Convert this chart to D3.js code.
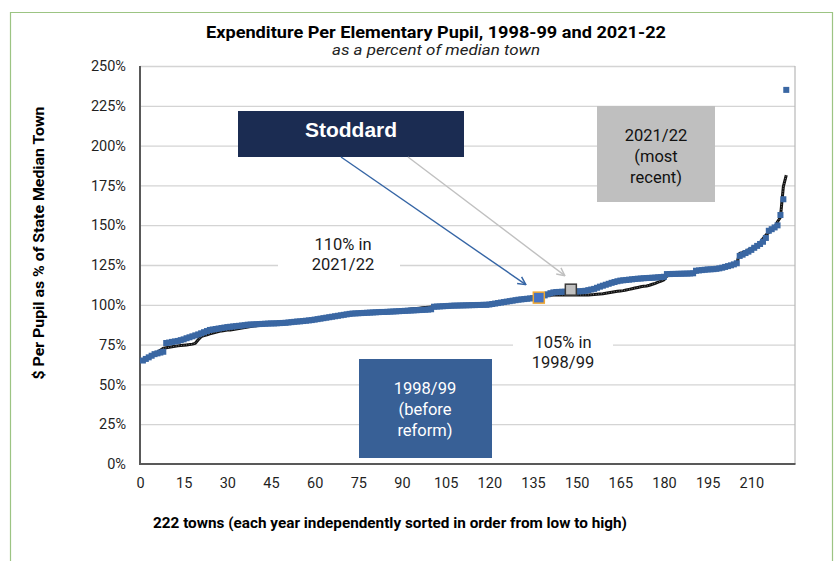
<!DOCTYPE html>
<html><head><meta charset="utf-8">
<script src="https://cdn.jsdelivr.net/npm/d3@7"></script>
<style>body{margin:0;background:#fff;} svg{display:block;}</style>
</head><body><svg id="c" width="836" height="561"></svg>
<script>
// ---------------- DATA ----------------
const yTicks = [0, 25, 50, 75, 100, 125, 150, 175, 200, 225, 250];
const xTicks = [0, 15, 30, 45, 60, 75, 90, 105, 120, 135, 150, 165, 180, 195, 210];
// rank of each town, 1..222 (each year sorted independently)
const ranks = d3.range(1, 223);
// blue markers: 1998/99
const values9899 = [
  65, 66, 67, 68, 69, 69.5, 70, 70.5, 76, 76.3,
  76.7, 77, 77.3, 77.8, 78.3, 79, 79.6, 80.2, 80.8, 81.4,
  82.1, 82.8, 83.5, 84.2, 84.5, 84.8, 85.1, 85.4, 85.7, 86,
  86.2, 86.4, 86.6, 86.8, 87, 87.2, 87.5, 87.6, 87.7, 87.8,
  87.9, 88, 88.1, 88.2, 88.3, 88.3, 88.4, 88.5, 88.6, 88.7,
  88.9, 89.1, 89.3, 89.5, 89.6, 89.8, 90, 90.2, 90.4, 90.7,
  91, 91.3, 91.6, 91.9, 92.2, 92.5, 92.8, 93.1, 93.4, 93.7,
  94, 94.3, 94.5, 94.6, 94.7, 94.8, 94.9, 95, 95.1, 95.2,
  95.3, 95.4, 95.5, 95.5, 95.6, 95.7, 95.8, 95.9, 96, 96.1,
  96.2, 96.3, 96.4, 96.5, 96.6, 96.7, 96.8, 96.9, 97, 97.2,
  98.8, 98.9, 99, 99.1, 99.2, 99.3, 99.4, 99.5, 99.5, 99.6,
  99.6, 99.7, 99.7, 99.8, 99.8, 99.9, 99.9, 100, 100, 100.2,
  100.5, 100.8, 101.1, 101.4, 101.7, 102, 102.3, 102.6, 102.9, 103.2,
  103.4, 103.6, 103.8, 104, 104.2, 104.3, 104.5, 105.2, 105.9, 106.6,
  107.3, 107.8, 108, 108.1, 108.2, 108.2, 108.3, 108.3, 108.4, 108.4,
  108.5, 108.6, 108.8, 109.2, 109.6, 110, 110.7, 111.4, 112, 112.6,
  113.2, 113.8, 114.3, 114.8, 115.2, 115.4, 115.6, 115.8, 116, 116.2,
  116.4, 116.5, 116.7, 116.8, 116.9, 117, 117.1, 117.3, 117.4, 117.6,
  119.3, 119.3, 119.4, 119.4, 119.5, 119.5, 119.6, 119.6, 119.7, 119.8,
  121.4, 121.6, 121.8, 122, 122.2, 122.3, 122.4, 122.6, 122.9, 123.3,
  123.8, 124.3, 124.8, 125.4, 126.1, 130.7, 131.5, 132.5, 133.4, 134.5,
  135.8, 137, 138.2, 139.6, 142, 146.5, 147.5, 148.6, 149.9, 156.4,
  166.3, 235
];
// black line: 2021/22
const values2122 = [
  65, 66, 67, 68.2, 69.3, 70.3, 71.5, 72.7, 73, 73.3,
  73.6, 73.9, 74.2, 74.4, 74.6, 74.8, 75, 75.3, 75.8, 78,
  80, 80.6, 81.2, 81.8, 82.3, 82.8, 83.2, 83.6, 83.9, 84.1,
  84.2, 84.5, 84.8, 85.1, 85.4, 85.7, 86, 86.3, 86.6, 86.9,
  87.2, 87.5, 87.7, 87.9, 88, 88.1, 88.2, 88.3, 88.4, 88.5,
  88.7, 88.9, 89.1, 89.3, 89.5, 89.7, 89.9, 90.1, 90.3, 90.6,
  90.9, 91.2, 91.5, 91.8, 92.1, 92.4, 92.7, 93, 93.3, 93.6,
  93.9, 94.2, 94.4, 94.6, 94.8, 95, 95.1, 95.2, 95.3, 95.4,
  95.5, 95.6, 95.7, 95.8, 95.9, 96, 96.1, 96.3, 96.5, 96.7,
  96.9, 97.1, 97.3, 97.5, 97.7, 97.9, 98.1, 98.3, 98.5, 98.7,
  98.9, 99, 99.1, 99.2, 99.3, 99.4, 99.4, 99.5, 99.5, 99.6,
  99.6, 99.7, 99.7, 99.8, 99.8, 99.9, 99.9, 100, 100.1, 100.3,
  100.6, 100.9, 101.2, 101.5, 101.8, 102.1, 102.4, 102.7, 103, 103.2,
  103.4, 103.6, 103.8, 104, 104.2, 104.4, 104.6, 105, 105.4, 105.8,
  106, 106.1, 106.2, 106.2, 106.2, 106.2, 106.2, 106.2, 106.2, 106.2,
  106.2, 106.2, 106.2, 106.2, 106.3, 106.4, 106.6, 106.8, 107, 107.3,
  107.6, 107.9, 108.2, 108.5, 108.7, 108.9, 109.3, 109.7, 110.1, 110.5,
  110.9, 111.3, 111.6, 111.8, 112.3, 112.9, 113.5, 114.2, 114.9, 115.6,
  118.1, 118.8, 119.1, 119.2, 119.3, 119.3, 119.4, 119.4, 119.5, 119.6,
  120.6, 121.3, 121.6, 121.8, 122, 122.2, 122.3, 122.4, 122.5, 122.8,
  123.2, 123.7, 124.3, 125, 126.1, 132.3, 132.8, 133.6, 134.5, 135.5,
  136.3, 137, 139, 141.5, 143.8, 145.5, 147, 148.5, 152.2, 155,
  174.2, 181.5
];
// Stoddard highlight points
const stoddardLabels = ["1998/99", "2021/22"];
const stoddardRanks = [137, 148];
const stoddardValues = [104.5, 109.5];

// ---------------- CHART ----------------
(function () {
const svg = d3.select("#c");
const W = 836, H = 561;
const pL = 140, pR = 795, pT = 66, pB = 464;
const x = d3.scaleLinear().domain([0, 225]).range([pL, pR]);
const y = d3.scaleLinear().domain([0, 250]).range([pB, pT]);
const F = "Roboto, 'Liberation Sans', Arial, sans-serif";

svg.append("rect").attr("width", W).attr("height", H).attr("fill", "#fff");
// green outer frame
svg.append("path").attr("d", `M10.5,${H + 5} V12.5 H832.5 V${H + 5}`)
  .attr("fill", "none").attr("stroke", "#9cc483").attr("stroke-width", 1.2);

// title
svg.append("text").attr("x", 436).attr("y", 38).attr("text-anchor", "middle")
  .attr("font-family", F).attr("font-weight", "bold").attr("font-size", 16.5)
  .attr("textLength", 460).attr("lengthAdjust", "spacingAndGlyphs")
  .attr("fill", "#000").text("Expenditure Per Elementary Pupil, 1998-99 and 2021-22");
svg.append("text").attr("x", 436).attr("y", 55).attr("text-anchor", "middle")
  .attr("font-family", F).attr("font-style", "italic").attr("font-size", 15)
  .attr("textLength", 208).attr("lengthAdjust", "spacingAndGlyphs")
  .attr("fill", "#222").text("as a percent of median town");

// gridlines
svg.append("g").attr("transform", `translate(${pL},0)`)
  .call(d3.axisLeft(y).tickValues(yTicks.filter(d => d > 0)).tickSize(-(pR - pL)).tickFormat(""))
  .call(g => g.select(".domain").remove())
  .call(g => g.selectAll("line").attr("stroke", "#d4d4d4").attr("stroke-width", 1.3));
// plot border (right)
svg.append("line").attr("x1", pR).attr("x2", pR).attr("y1", pT).attr("y2", pB)
  .attr("stroke", "#b8b8b8").attr("stroke-width", 1.2);

// y axis labels
svg.append("g").attr("transform", `translate(${pL},0)`)
  .call(d3.axisLeft(y).tickValues(yTicks).tickSize(0).tickPadding(14).tickFormat(d => d + "%"))
  .call(g => g.select(".domain").remove())
  .call(g => g.selectAll("text").attr("font-family", F).attr("font-size", 14.5).attr("fill", "#1f1f1f"));
// x axis labels
svg.append("g").attr("transform", `translate(0,${pB})`)
  .call(d3.axisBottom(x).tickValues(xTicks).tickSize(0).tickPadding(14).tickFormat(d3.format("d")))
  .call(g => g.select(".domain").remove())
  .call(g => g.selectAll("text").attr("font-family", F).attr("font-size", 14.5).attr("fill", "#1f1f1f"));

// axis lines
svg.append("line").attr("x1", pL).attr("x2", pL).attr("y1", pT).attr("y2", pB + 1)
  .attr("stroke", "#595959").attr("stroke-width", 2);
svg.append("line").attr("x1", pL - 1).attr("x2", pR + 0.5).attr("y1", pB).attr("y2", pB)
  .attr("stroke", "#595959").attr("stroke-width", 2);

// axis titles
svg.append("text").attr("transform", `translate(44,243) rotate(-90)`).attr("text-anchor", "middle")
  .attr("font-family", F).attr("font-weight", "bold").attr("font-size", 14.5)
  .attr("textLength", 273).attr("lengthAdjust", "spacingAndGlyphs")
  .attr("fill", "#000").text("$ Per Pupil as % of State Median Town");
svg.append("text").attr("x", 390).attr("y", 528).attr("text-anchor", "middle")
  .attr("font-family", F).attr("font-weight", "bold").attr("font-size", 14.5)
  .attr("textLength", 474).attr("lengthAdjust", "spacingAndGlyphs")
  .attr("fill", "#000").text("222 towns (each year independently sorted in order from low to high)");

// label with white background (breaks the gridlines)
function label(cx, lines, y0, bgx0, bgx1, bgy0, bgy1, color) {
  svg.append("rect").attr("x", bgx0).attr("y", bgy0).attr("width", bgx1 - bgx0).attr("height", bgy1 - bgy0).attr("fill", "#fff");
  lines.forEach((t, i) => svg.append("text").attr("x", cx).attr("y", y0 + i * 20).attr("text-anchor", "middle")
    .attr("font-family", F).attr("font-size", 16.5).attr("fill", color || "#1a1a1a").text(t));
}

// series: 2021/22 black line with light texture
const line = d3.line().x((d, i) => x(ranks[i])).y(d => y(d));
svg.append("path").datum(values2122).attr("d", line).attr("fill", "none")
  .attr("stroke", "#111").attr("stroke-width", 3).attr("stroke-linejoin", "round");
svg.append("path").datum(values2122).attr("d", line).attr("fill", "none")
  .attr("stroke", "#ffffff").attr("stroke-opacity", 0.55).attr("stroke-width", 0.8).attr("stroke-dasharray", "1 1.6");

// series: 1998/99 blue square markers
const ms = 6;
svg.append("g").selectAll("rect").data(values9899).join("rect")
  .attr("x", (d, i) => x(ranks[i]) - ms / 2).attr("y", d => y(d) - ms / 2)
  .attr("width", ms).attr("height", ms).attr("fill", "#3a67a3");

// text labels
label(343, ["110% in", "2021/22"], 250, 278, 400, 233, 276);
label(563, ["105% in", "1998/99"], 348, 513, 613, 330, 372);

// Stoddard boxes
svg.append("rect").attr("x", 238).attr("y", 111).attr("width", 226).attr("height", 46).attr("fill", "#1b2c52");
svg.append("text").attr("x", 351).attr("y", 137).attr("text-anchor", "middle")
  .attr("font-family", "'Liberation Sans', Arial, sans-serif").attr("font-weight", "bold").attr("font-size", 21)
  .attr("fill", "#fff").text("Stoddard");

svg.append("rect").attr("x", 597).attr("y", 106).attr("width", 118).attr("height", 96).attr("fill", "#bfbfbf");
["2021/22", "(most", "recent)"].forEach((t, i) => svg.append("text").attr("x", 656).attr("y", 141 + i * 21)
  .attr("text-anchor", "middle").attr("font-family", F).attr("font-size", 16.5).attr("fill", "#111").text(t));

svg.append("rect").attr("x", 359).attr("y", 359).attr("width", 133).attr("height", 99).attr("fill", "#386096");
["1998/99", "(before", "reform)"].forEach((t, i) => svg.append("text").attr("x", 425).attr("y", 394 + i * 21)
  .attr("text-anchor", "middle").attr("font-family", F).attr("font-size", 16.5).attr("fill", "#fff").text(t));

// arrows
const defs = svg.append("defs");
function marker(id, color) {
  defs.append("marker").attr("id", id).attr("viewBox", "0 0 10 10").attr("refX", 9).attr("refY", 5)
    .attr("markerWidth", 7).attr("markerHeight", 7).attr("orient", "auto")
    .append("path").attr("d", "M1,1 L9,5 L1,9").attr("fill", "none").attr("stroke", color).attr("stroke-width", 1.5);
}
marker("ab", "#3565a5"); marker("ag", "#c0c0c0");
const p0 = [x(stoddardRanks[0]) - 13, y(stoddardValues[0]) - 13];
const p1 = [x(stoddardRanks[1]) - 6, y(stoddardValues[1]) - 14];
svg.append("line").attr("x1", 341).attr("y1", 157).attr("x2", p0[0]).attr("y2", p0[1])
  .attr("stroke", "#3565a5").attr("stroke-width", 1.4).attr("marker-end", "url(#ab)");
svg.append("line").attr("x1", 408).attr("y1", 157).attr("x2", p1[0]).attr("y2", p1[1])
  .attr("stroke", "#c0c0c0").attr("stroke-width", 1.4).attr("marker-end", "url(#ag)");

// Stoddard points
svg.append("rect").attr("x", x(stoddardRanks[0]) - 5.5).attr("y", y(stoddardValues[0]) - 5.5)
  .attr("width", 11).attr("height", 11).attr("fill", "#4472c4").attr("stroke", "#f0a832").attr("stroke-width", 1.5);
svg.append("rect").attr("x", x(stoddardRanks[1]) - 5.5).attr("y", y(stoddardValues[1]) - 5.5)
  .attr("width", 11).attr("height", 11).attr("fill", "#c0c0c0").attr("stroke", "#3a3a3a").attr("stroke-width", 1.5);
})();
</script>
</body></html>
